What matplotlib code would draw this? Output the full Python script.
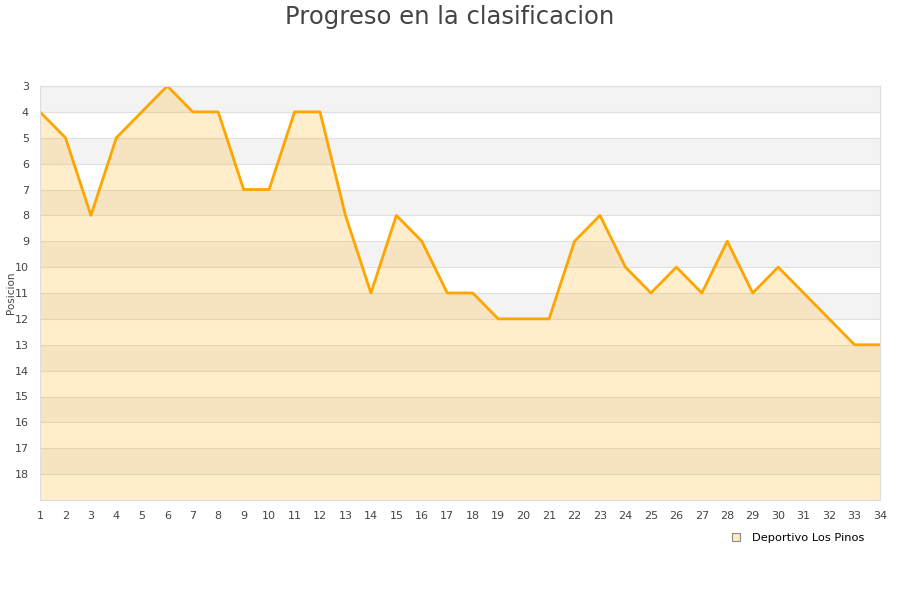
import matplotlib.pyplot as plt

# Posicion por jornada
jornadas = list(range(1, 35))
posiciones = [4, 5, 8, 5, 4, 3, 4, 4, 7, 7, 4, 4, 8, 11, 8, 9, 11, 11, 12, 12,
              12, 9, 8, 10, 11, 10, 11, 9, 11, 10, 11, 12, 13, 13]
equipo = "Deportivo Los Pinos"

fig = plt.figure(figsize=(9, 6), dpi=100)
ax = fig.add_axes([40 / 900, 100 / 600, 840 / 900, 414 / 600])

# alternating background bands
for y in range(3, 19, 2):
    ax.axhspan(y, y + 1, color='#f3f3f3', zorder=0, lw=0)
for y in range(3, 20):
    ax.axhline(y, color='#e0e0e0', lw=0.8, zorder=0.5)

ax.fill_between(jornadas, posiciones, 19, color='#ffa500', alpha=0.2, lw=0, zorder=1)
ax.plot(jornadas, posiciones, color='#ffa500', lw=2.0, zorder=2)

ax.set_xlim(1, 34)
ax.set_ylim(19, 3)
ax.set_xticks(jornadas)
ax.set_yticks(range(3, 19))
ax.tick_params(length=0, labelsize=8, colors='#444444', pad=8)
for s in ax.spines.values():
    s.set_color('#dddddd')

fig.text(11 / 900, 1 - 293 / 600, "Posicion", rotation=90, ha='center', va='center',
         fontsize=7.5, color='#444444')
fig.text(0.5, 0.992, "Progreso en la clasificacion", ha='center', va='top',
         fontsize=17.5, color='#444444')

h = plt.Line2D([], [], marker='s', ls='', markersize=6, markerfacecolor='#ffebc2',
               markeredgecolor='#888888', markeredgewidth=0.8)
fig.legend([h], [equipo], loc='center right', bbox_to_anchor=(0.972, 0.103),
           frameon=False, fontsize=8.2, handletextpad=0.4)

fig.savefig("out.png", dpi=100)
